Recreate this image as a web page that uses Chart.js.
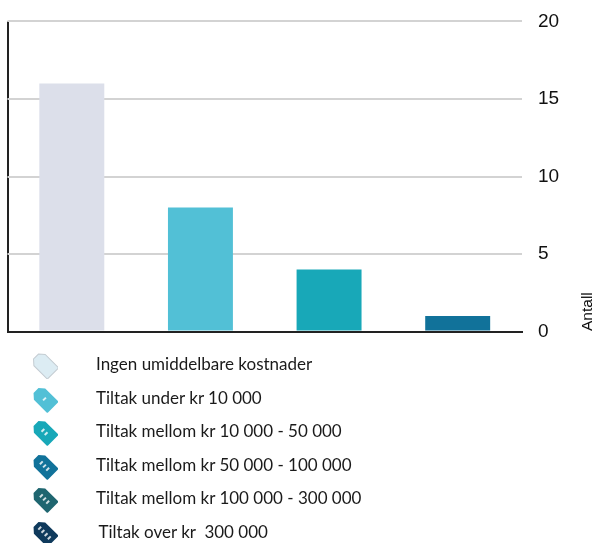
<!DOCTYPE html>
<html lang="no">
<head>
<meta charset="utf-8">
<title>Tiltak</title>
<script src="https://cdn.jsdelivr.net/npm/chart.js@4"></script>
<style>
  html, body { margin: 0; padding: 0; background: #fff; }
  #wrap { position: relative; width: 594px; height: 543px; overflow: hidden; }
  #chart { position: absolute; left: 0; top: -6px; }
  #antall { position: absolute; left: 579px; top: 331px; font: 15.5px "Liberation Sans", Arial, sans-serif; color: #111;
            line-height: 16px; transform-origin: 0 0; transform: rotate(-90deg); white-space: nowrap; }
  .row { position: absolute; left: 0; height: 28px; }
  .row svg { position: absolute; left: 31px; top: 0; }
  .row span { position: absolute; top: 2px; font: 17px Lato, sans-serif; color: #1a1a1a; white-space: pre; }
</style>
</head>
<body>
<div id="wrap">
  <canvas id="chart" width="594" height="365"></canvas>
  <div id="antall">Antall</div>
  <div id="legend"></div>
</div>
<script>
var categories = ["Ingen umiddelbare kostnader", "Tiltak under kr 10 000", "Tiltak mellom kr 10 000 - 50 000", "Tiltak mellom kr 50 000 - 100 000"];
var values = [16, 8, 4, 1];
var barColors = ["#dcdfea", "#52c0d6", "#18a8b8", "#11729a"];
var yTicks = [0, 5, 10, 15, 20];

var legendLabels = ["Ingen umiddelbare kostnader", "Tiltak under kr 10 000", "Tiltak mellom kr 10 000 - 50 000", "Tiltak mellom kr 50 000 - 100 000", "Tiltak mellom kr 100 000 - 300 000", "Tiltak over kr  300 000"];
var legendColors = ["#dcecf3", "#52c0d6", "#18a8b8", "#11729a", "#1f6670", "#0f3a5c"];
var legendMarks = [0, 1, 2, 3, 3, 4];

new Chart(document.getElementById("chart"), {
  type: "bar",
  data: {
    labels: categories,
    datasets: [{ data: values, backgroundColor: barColors, categoryPercentage: 1, barPercentage: 0.505 }]
  },
  options: {
    responsive: false,
    animation: false,
    layout: { padding: { left: 7.5, top: 0, right: 0, bottom: 0 } },
    plugins: { legend: { display: false }, tooltip: { enabled: false } },
    scales: {
      x: {
        ticks: { display: false },
        border: { color: "#222", width: 2 },
        grid: {
          drawTicks: false,
          lineWidth: 2,
          color: function(c) { return c.index === 0 ? "#222" : "rgba(0,0,0,0)"; }
        }
      },
      y: {
        position: "right",
        min: 0,
        max: 20,
        afterFit: function(s) { s.width = 72; },
        afterBuildTicks: function(s) { s.ticks = yTicks.map(function(v) { return { value: v }; }); },
        border: { display: false },
        grid: { color: "#d3d3d3", lineWidth: 2, drawTicks: false },
        ticks: {
          padding: 16,
          color: "#111",
          font: { family: "'Liberation Sans'", size: 19 }
        }
      }
    }
  }
});

// tag icons and labels under the chart
var legend = document.getElementById("legend");
legendLabels.forEach(function(text, i) {
  var top = 351 + i * 33.6;
  var row = document.createElement("div");
  row.className = "row";
  row.style.top = top + "px";
  var holes = "";
  for (var k = 0; k < legendMarks[i]; k++) {
    holes += '<rect x="' + (-1 + (k - (legendMarks[i] - 1) / 2) * 4.5) + '" y="-2" width="2" height="4" fill="#fff" opacity="0.8"/>';
  }
  row.innerHTML = '<svg width="27" height="28" viewBox="-13.5 -14 27 28">' +
    '<g transform="rotate(45)">' +
    '<path d="M-12 -3.5 L-7 -8 L11 -8 Q12 -8 12 -7 L12 7 Q12 8 11 8 L-7 8 L-12 3.5 Z" fill="' + legendColors[i] + '"' +
    (i === 0 ? ' stroke="#c4ccd2" stroke-width="1"' : '') + '/>' +
    holes + '</g></svg>' +
    '<span style="left:' + (i === 5 ? 98.5 : 96) + 'px">' + text + '</span>';
  legend.appendChild(row);
});
</script>
</body>
</html>
